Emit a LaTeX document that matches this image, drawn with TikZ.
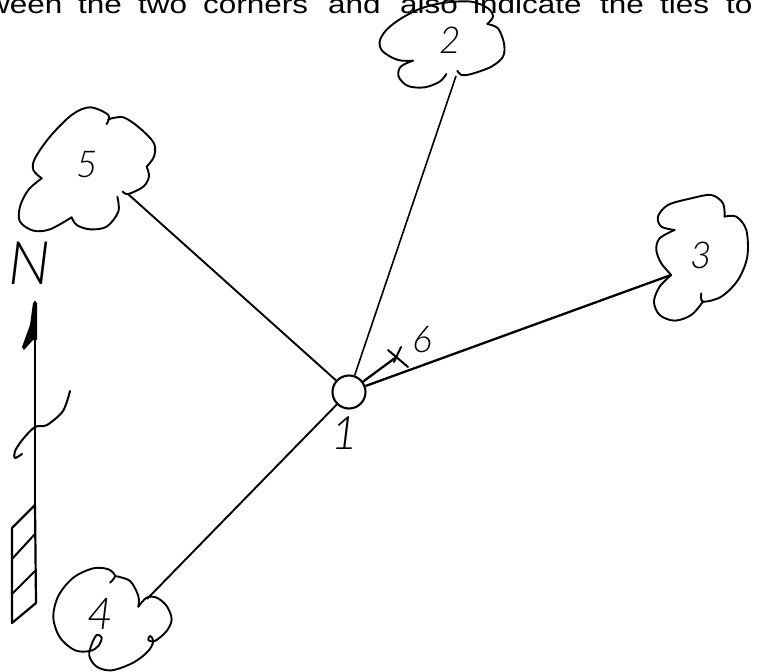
\documentclass[tikz,border=0pt]{standalone}
\usepackage{fontspec}
\setmainfont{Liberation Sans}
\newfontfamily\wordfont[FakeStretch=1.21]{Liberation Sans}
\newfontfamily\handfont{Lato Light Italic}
\tikzset{
  ink/.style={line width=2pt,line cap=round,line join=round},
  cloudline/.style={ink,line width=1.9pt,smooth,tension=0.55},
  tie/.style={line width=1.9pt},
  hand/.style={inner sep=0pt,font=\fontsize{37}{37}\handfont},
  word/.style={anchor=base west,inner sep=0pt,font=\fontsize{26}{26}\wordfont},
  station/.style={circle,draw,line width=2.1pt,minimum size=33pt,inner sep=0pt}
}
\begin{document}
\begin{tikzpicture}[x=1pt,y=-1pt]
\useasboundingbox (0,0) rectangle (758,672);
\begin{scope}
\clip (0,0) rectangle (758,672);
\node[word] (w1) at (-13,13.5) {ween};
\node[word] (w2) at (78,13.5) {the};
\node[word] (w3) at (138,13.5) {two};
\node[word] (w4) at (203,13.5) {corners};
\node[word] (w5) at (328,13.5) {and};
\node[word] (w6) at (400,13.5) {also};
\node[word] (w7) at (473,13.5) {indicate};
\node[word] (w8) at (600,13.5) {the};
\node[word] (w9) at (660,13.5) {ties};
\node[word] (w10) at (726,13.5) {to};
\end{scope}
% station and tie ends
\node[station] (p1) at (349,392) {};
\coordinate (c5) at (128,194);
\coordinate (c2) at (456,76);
\coordinate (c3) at (671,275);
\coordinate (c4) at (147,599);
\coordinate (x6) at (395,358);
\draw[tie] (p1) -- (c5);
\draw[tie,line width=1.6pt] (p1) -- (c2);
\draw[tie,line width=2.3pt] (p1) -- (c3);
\draw[tie] (p1) -- (c4);
\draw[tie,line width=2.3pt] (p1) -- (x6);
% cross at 6
\draw[ink] (388,350) -- (408,367);
\draw[ink] (401,347) -- (394,362);
% labels
\node[hand,font=\fontsize{46}{46}\handfont] (l1) at (345,433) {1};
\node[hand] (l2) at (450,40) {2};
\node[hand] (l3) at (701,255) {3};
\node[hand,font=\fontsize{44}{44}\handfont] (l4) at (100,614) {4};
\node[hand] (l5) at (87,165) {5};
\node[hand] (l6) at (422,340) {6};
\node[hand,font=\fontsize{60}{60}\handfont] (north) at (30,263) {N};
% cloud 5
\begin{scope}[x=0.3333pt,y=-0.3333pt]
\draw[cloudline] plot coordinates {(320,372)(325,345)(270,322)(215,345)(150,410)(105,475)(100,510)(125,535)};
\draw[cloudline] plot coordinates {(125,535)(85,570)(60,620)(60,665)(100,692)(150,688)(215,652)};
\draw[cloudline] plot coordinates {(215,652)(230,675)(270,688)(320,680)(355,635)(352,590)};
\draw[cloudline] plot coordinates {(368,575)(385,582)(430,560)(447,530)(440,500)};
\draw[cloudline] plot coordinates {(440,500)(462,470)(462,430)(420,385)(370,352)(325,358)};
\end{scope}
% cloud 2
\begin{scope}[shift={(378,0)},x=0.3333pt,y=-0.3333pt]
\draw[cloudline] plot coordinates {(105,182)(60,180)(15,155)(5,125)(25,90)(70,55)(130,25)(200,8)(280,5)(330,25)(345,50)(328,72)};
\draw[cloudline] plot coordinates {(328,72)(360,85)(378,130)(375,170)(340,200)(280,222)(250,225)(238,212)};
\draw[cloudline] plot coordinates {(205,222)(185,245)(140,262)(90,258)(62,230)(68,200)(105,182)};
\end{scope}
% cloud 3
\begin{scope}[shift={(378,0)},x=0.3333pt,y=-0.3333pt]
\draw[cloudline] plot coordinates {(890,690)(850,680)(840,650)(870,615)(940,595)(1000,585)(1035,610)(1040,650)};
\draw[cloudline] plot coordinates {(1040,650)(1075,650)(1105,690)(1108,770)(1080,840)(1030,890)(975,905)(970,880)};
\draw[cloudline] plot coordinates {(975,905)(940,945)(890,962)(845,945)(828,905)(845,860)(880,825)};
\draw[cloudline] plot coordinates {(880,825)(850,790)(835,750)(845,715)(890,690)};
\end{scope}
% cloud 4
\begin{scope}[shift={(0,336)},x=0.3333pt,y=-0.3333pt]
\draw[cloudline] plot coordinates {(330,740)(345,720)(325,700)(280,697)(220,725)(175,780)(160,845)(180,905)(225,943)(270,945)(295,930)(305,905)(290,897)(275,925)(268,960)(290,992)(335,1003)(400,980)(445,945)(460,915)(450,900)(445,912)(465,915)(500,885)(515,850)(500,810)(470,785)(440,785)(415,812)};
\draw[cloudline] plot coordinates {(415,812)(415,780)(390,735)(345,720)};
\end{scope}
% north arrow
\coordinate (ntip) at (35,302);
\coordinate (nfoot) at (35,505);
\draw[ink,line width=2.2pt] (ntip) -- (nfoot);
\fill (33,303) -- (35,301) -- (37,303) -- (37,340) -- (33,340) -- (24,350) -- (22,347) -- (30,325) -- cycle;
\draw[ink,smooth] plot coordinates {(70,391)(63,411)(47,425)(35,427)(23,439)(15,451)(15,458)(22,454)};
% hatching
\draw[ink,line width=2.2pt] (nfoot) -- (36,603) -- (12,623) -- (12,528) -- cycle;
\draw[ink] (35,534) -- (12,559);
\draw[ink] (35,571) -- (12,594);
\end{tikzpicture}
\end{document}
